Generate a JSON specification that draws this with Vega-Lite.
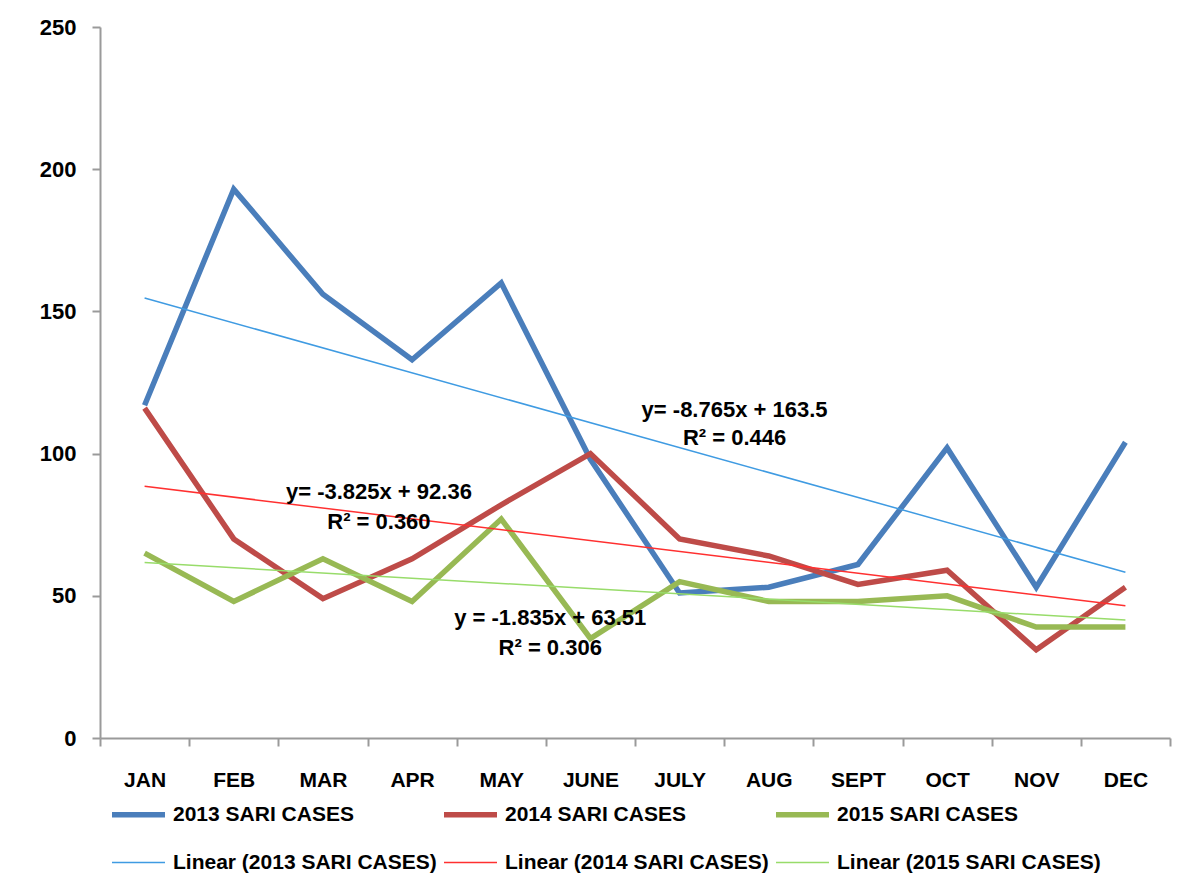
{
  "$schema": "https://vega.github.io/schema/vega-lite/v6.json",
  "width": 1070,
  "height": 711,
  "autosize": {"type": "none"},
  "padding": {"left": 100, "top": 27, "right": 27, "bottom": 155},
  "background": "white",
  "config": {"view": {"stroke": null}, "font": "Liberation Sans"},
  "datasets": {
    "series": [
      {"series": "2013 SARI CASES", "month": "JAN", "m": 1, "value": 117},
      {"series": "2013 SARI CASES", "month": "FEB", "m": 2, "value": 193},
      {"series": "2013 SARI CASES", "month": "MAR", "m": 3, "value": 156},
      {"series": "2013 SARI CASES", "month": "APR", "m": 4, "value": 133},
      {"series": "2013 SARI CASES", "month": "MAY", "m": 5, "value": 160},
      {"series": "2013 SARI CASES", "month": "JUNE", "m": 6, "value": 98},
      {"series": "2013 SARI CASES", "month": "JULY", "m": 7, "value": 51},
      {"series": "2013 SARI CASES", "month": "AUG", "m": 8, "value": 53},
      {"series": "2013 SARI CASES", "month": "SEPT", "m": 9, "value": 61},
      {"series": "2013 SARI CASES", "month": "OCT", "m": 10, "value": 102},
      {"series": "2013 SARI CASES", "month": "NOV", "m": 11, "value": 53},
      {"series": "2013 SARI CASES", "month": "DEC", "m": 12, "value": 104},
      {"series": "2014 SARI CASES", "month": "JAN", "m": 1, "value": 116},
      {"series": "2014 SARI CASES", "month": "FEB", "m": 2, "value": 70},
      {"series": "2014 SARI CASES", "month": "MAR", "m": 3, "value": 49},
      {"series": "2014 SARI CASES", "month": "APR", "m": 4, "value": 63},
      {"series": "2014 SARI CASES", "month": "MAY", "m": 5, "value": 82},
      {"series": "2014 SARI CASES", "month": "JUNE", "m": 6, "value": 100},
      {"series": "2014 SARI CASES", "month": "JULY", "m": 7, "value": 70},
      {"series": "2014 SARI CASES", "month": "AUG", "m": 8, "value": 64},
      {"series": "2014 SARI CASES", "month": "SEPT", "m": 9, "value": 54},
      {"series": "2014 SARI CASES", "month": "OCT", "m": 10, "value": 59},
      {"series": "2014 SARI CASES", "month": "NOV", "m": 11, "value": 31},
      {"series": "2014 SARI CASES", "month": "DEC", "m": 12, "value": 53},
      {"series": "2015 SARI CASES", "month": "JAN", "m": 1, "value": 65},
      {"series": "2015 SARI CASES", "month": "FEB", "m": 2, "value": 48},
      {"series": "2015 SARI CASES", "month": "MAR", "m": 3, "value": 63},
      {"series": "2015 SARI CASES", "month": "APR", "m": 4, "value": 48},
      {"series": "2015 SARI CASES", "month": "MAY", "m": 5, "value": 77},
      {"series": "2015 SARI CASES", "month": "JUNE", "m": 6, "value": 35},
      {"series": "2015 SARI CASES", "month": "JULY", "m": 7, "value": 55},
      {"series": "2015 SARI CASES", "month": "AUG", "m": 8, "value": 48},
      {"series": "2015 SARI CASES", "month": "SEPT", "m": 9, "value": 48},
      {"series": "2015 SARI CASES", "month": "OCT", "m": 10, "value": 50},
      {"series": "2015 SARI CASES", "month": "NOV", "m": 11, "value": 39},
      {"series": "2015 SARI CASES", "month": "DEC", "m": 12, "value": 39},
      {"series": "Linear (2013 SARI CASES)", "month": "JAN", "m": 1, "value": 154.7},
      {"series": "Linear (2013 SARI CASES)", "month": "DEC", "m": 12, "value": 58.3},
      {"series": "Linear (2014 SARI CASES)", "month": "JAN", "m": 1, "value": 88.5},
      {"series": "Linear (2014 SARI CASES)", "month": "DEC", "m": 12, "value": 46.5},
      {"series": "Linear (2015 SARI CASES)", "month": "JAN", "m": 1, "value": 61.7},
      {"series": "Linear (2015 SARI CASES)", "month": "DEC", "m": 12, "value": 41.5}
    ],
    "ann2013": [
      {"month": "JULY", "label": "y= -8.765x + 163.5", "value": 115.3},
      {"month": "JULY", "label": "R² = 0.446", "value": 105.5}
    ],
    "ann2014": [
      {"month": "MAR", "label": "y= -3.825x + 92.36", "value": 86.5},
      {"month": "MAR", "label": "R² = 0.360", "value": 75.9}
    ],
    "ann2015": [
      {"month": "MAY", "label": "y = -1.835x + 63.51", "value": 42.2},
      {"month": "MAY", "label": "R² = 0.306", "value": 31.6}
    ]
  },
  "layer": [
    {
      "data": {"name": "series"},
      "mark": {"type": "line"},
      "encoding": {
        "x": {
          "field": "month", "type": "nominal",
          "sort": ["JAN","FEB","MAR","APR","MAY","JUNE","JULY","AUG","SEPT","OCT","NOV","DEC"],
          "scale": {"type": "band", "domain": ["JAN","FEB","MAR","APR","MAY","JUNE","JULY","AUG","SEPT","OCT","NOV","DEC"], "paddingInner": 0, "paddingOuter": 0},
          "axis": {
            "title": null, "tickBand": "extent", "labelAngle": 0, "grid": false,
            "domainColor": "#9A9A9A", "domainWidth": 2, "tickColor": "#9A9A9A", "tickWidth": 2, "tickSize": 8,
            "labelFont": "Liberation Sans", "labelFontSize": 21, "labelFontWeight": "bold", "labelColor": "black", "labelPadding": 23
          }
        },
        "y": {
          "field": "value", "type": "quantitative",
          "scale": {"domain": [0, 250], "nice": false},
          "axis": {
            "title": null, "values": [0, 50, 100, 150, 200, 250], "grid": false,
            "domainColor": "#9A9A9A", "domainWidth": 2, "tickColor": "#9A9A9A", "tickWidth": 2, "tickSize": 8,
            "labelFont": "Liberation Sans", "labelFontSize": 22, "labelFontWeight": "bold", "labelColor": "black", "labelPadding": 16
          }
        },
        "color": {
          "field": "series", "type": "nominal",
          "scale": {
            "domain": ["2013 SARI CASES","2014 SARI CASES","2015 SARI CASES","Linear (2013 SARI CASES)","Linear (2014 SARI CASES)","Linear (2015 SARI CASES)"],
            "range": ["#4A7EBB","#BE4B48","#98B954","#3F9BE2","#FF3030","#98DC6A"]
          },
          "legend": {
            "orient": "none", "legendX": 9, "legendY": 758, "title": null, "columns": 3, "direction": "horizontal",
            "symbolType": "stroke", "symbolSize": 2809, "labelOffset": 5, "columnPadding": -4, "rowPadding": 9,
            "labelFont": "Liberation Sans", "labelFontSize": 21, "labelFontWeight": "bold", "labelColor": "black", "labelLimit": 0
          }
        },
        "strokeWidth": {
          "field": "series", "type": "nominal",
          "scale": {
            "type": "ordinal",
            "domain": ["2013 SARI CASES","2014 SARI CASES","2015 SARI CASES","Linear (2013 SARI CASES)","Linear (2014 SARI CASES)","Linear (2015 SARI CASES)"],
            "range": [5.5, 5.5, 5.5, 1.5, 1.5, 1.5]
          }
        },
        "order": {"field": "m", "type": "quantitative"}
      }
    },
    {
      "data": {"name": "ann2013"},
      "mark": {"type": "text", "dx": 55, "font": "Liberation Sans", "fontSize": 22, "fontWeight": "bold", "color": "black", "align": "center", "baseline": "middle"},
      "encoding": {
        "x": {"field": "month", "type": "nominal"},
        "y": {"field": "value", "type": "quantitative"},
        "text": {"field": "label"}
      }
    },
    {
      "data": {"name": "ann2014"},
      "mark": {"type": "text", "dx": 56, "font": "Liberation Sans", "fontSize": 22, "fontWeight": "bold", "color": "black", "align": "center", "baseline": "middle"},
      "encoding": {
        "x": {"field": "month", "type": "nominal"},
        "y": {"field": "value", "type": "quantitative"},
        "text": {"field": "label"}
      }
    },
    {
      "data": {"name": "ann2015"},
      "mark": {"type": "text", "dx": 49, "font": "Liberation Sans", "fontSize": 22, "fontWeight": "bold", "color": "black", "align": "center", "baseline": "middle"},
      "encoding": {
        "x": {"field": "month", "type": "nominal"},
        "y": {"field": "value", "type": "quantitative"},
        "text": {"field": "label"}
      }
    }
  ]
}
